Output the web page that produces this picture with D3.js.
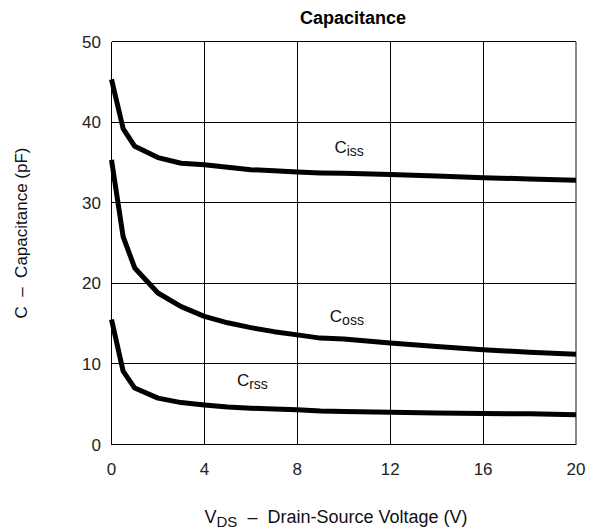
<!DOCTYPE html>
<html><head><meta charset="utf-8">
<script src="https://cdn.jsdelivr.net/npm/d3@7"></script>
<style>body{margin:0;background:#fff}text{font-family:"Liberation Sans",Arial,sans-serif;white-space:pre}</style>
</head><body><svg id="c" width="608" height="532"></svg>
<script>
const vds = [0, 0.5, 1, 2, 3, 4, 5, 6, 7, 8, 9, 10, 12, 14, 16, 18, 20];
const ciss = [45.3, 39.2, 37.0, 35.6, 34.9, 34.7, 34.4, 34.1, 33.95, 33.8, 33.7, 33.65, 33.5, 33.3, 33.1, 32.95, 32.8];
const coss = [35.3, 25.8, 21.9, 18.8, 17.1, 15.9, 15.1, 14.5, 14.0, 13.6, 13.2, 13.1, 12.6, 12.15, 11.75, 11.45, 11.2];
const crss = [15.5, 9.1, 7.0, 5.75, 5.2, 4.9, 4.65, 4.5, 4.4, 4.3, 4.15, 4.1, 4.0, 3.9, 3.85, 3.8, 3.7];
const xTicks = [0, 4, 8, 12, 16, 20];
const yTicks = [0, 10, 20, 30, 40, 50];
const labels = [
  {name: "C", sub: "iss", v: 9.6, c: 36.2},
  {name: "C", sub: "oss", v: 9.4, c: 15.2},
  {name: "C", sub: "rss", v: 5.4, c: 7.3}
];

const svg = d3.select("#c");
const L = 111.5, R = 576, T = 41.5, B = 444.5;
const x = d3.scaleLinear().domain([0, 20]).range([L, R]);
const y = d3.scaleLinear().domain([0, 50]).range([B, T]);
const g = svg.append("g");

// grid
g.selectAll(".vg").data(xTicks).enter().append("line")
  .attr("x1", d => x(d)).attr("x2", d => x(d)).attr("y1", T).attr("y2", B)
  .attr("stroke", d => d === 20 ? "#888" : "#000").attr("stroke-width", d => d===20?1.5:1).attr("shape-rendering","crispEdges");
g.selectAll(".hg").data(yTicks).enter().append("line")
  .attr("x1", L).attr("x2", R).attr("y1", d => y(d)).attr("y2", d => y(d))
  .attr("stroke", "#000").attr("stroke-width", 1).attr("shape-rendering","crispEdges");

// tick labels
g.selectAll(".xt").data(xTicks).enter().append("text")
  .attr("x", d => x(d)).attr("y", 475).attr("text-anchor", "middle")
  .attr("font-size", 17).attr("fill", "#222").text(d => d);
g.selectAll(".yt").data(yTicks).enter().append("text")
  .attr("x", 101).attr("y", d => y(d) + 6).attr("text-anchor", "end")
  .attr("font-size", 17).attr("fill", "#222").text(d => d);

// curves
const line = d3.line().x((d, i) => x(vds[i])).y(d => y(d)).curve(d3.curveLinear);
[ciss, coss, crss].forEach(s => {
  g.append("path").attr("d", line(s)).attr("fill", "none")
    .attr("stroke", "#000").attr("stroke-width", 5).attr("stroke-linejoin","round");
});

// curve labels
labels.forEach(l => {
  const t = g.append("text").attr("x", x(l.v)).attr("y", y(l.c))
    .attr("font-size", 17).attr("fill", "#111");
  t.append("tspan").text(l.name);
  t.append("tspan").attr("font-size", 14).attr("dy", 3).text(l.sub);
});

// title
svg.append("text").attr("x", 353).attr("y", 24).attr("text-anchor", "middle")
  .attr("font-size", 18).attr("font-weight", "bold").text("Capacitance");

// x axis title
const xt = svg.append("text").attr("x", 336).attr("y", 523).attr("text-anchor", "middle")
  .attr("font-size", 18).attr("fill", "#111");
xt.append("tspan").text("V");
xt.append("tspan").attr("font-size", 15).attr("dy", 4).text("DS");
xt.append("tspan").attr("dy", -4).text("  \u2013  Drain-Source Voltage (V)");

// y axis title
svg.append("text").attr("transform", "translate(27,233) rotate(-90)")
  .attr("text-anchor", "middle").attr("font-size", 17).attr("fill", "#111")
  .text("C  \u2013  Capacitance (pF)");
</script>
</body></html>
